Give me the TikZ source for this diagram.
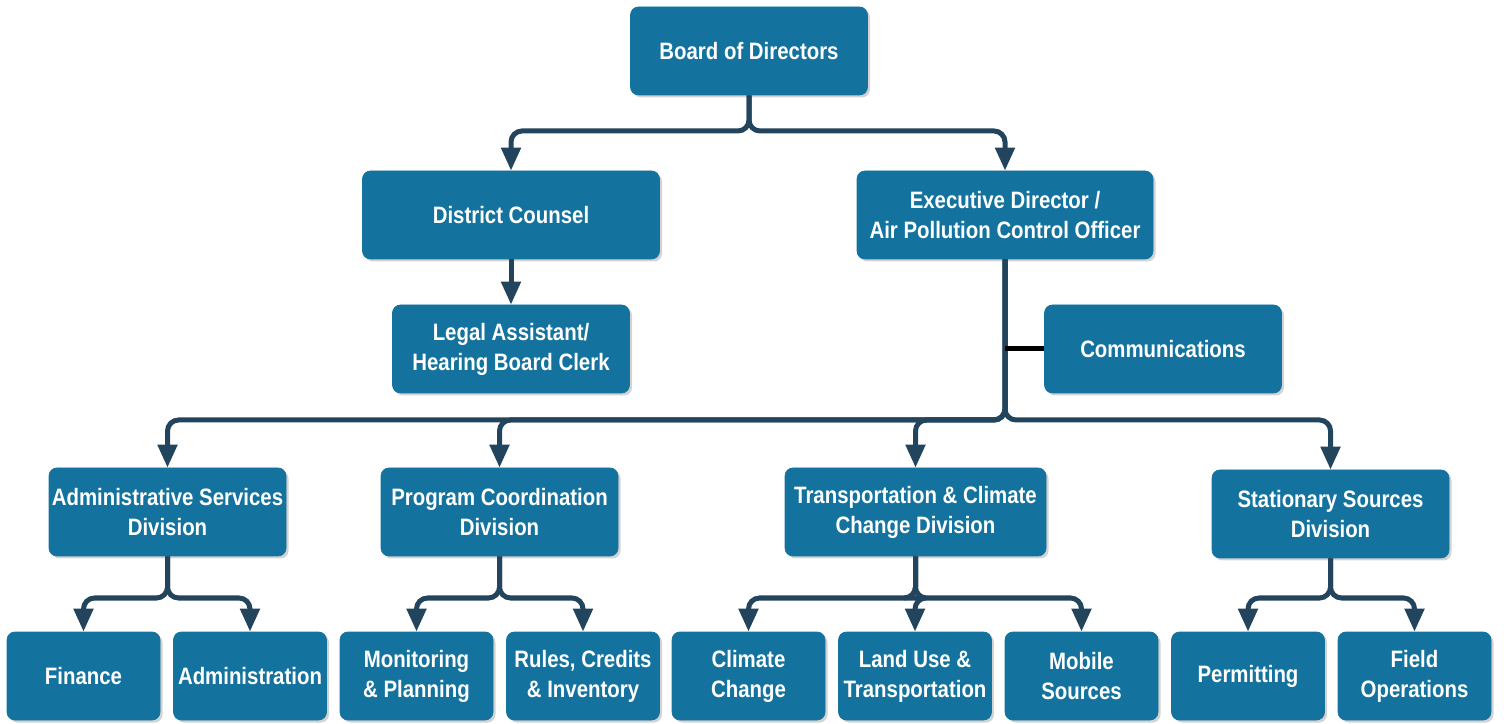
\documentclass[tikz,border=0pt]{standalone}
\usepackage{fontspec}
\setmainfont{Liberation Sans}[FakeStretch=0.86]
\usetikzlibrary{arrows.meta,shadows}

\definecolor{boxblue}{RGB}{19,115,158}
\definecolor{linkblue}{RGB}{35,68,93}

\begin{document}
\begin{tikzpicture}[
    unit/.style={draw=boxblue, fill=boxblue, rounded corners=0.16cm, text=white,
      font=\fontsize{13.5}{17}\selectfont\bfseries, align=center,
      minimum width=4.74cm, minimum height=1.76cm, inner sep=0pt,
      drop shadow={shadow xshift=0.05cm, shadow yshift=-0.05cm, opacity=0.35, fill=gray}},
    leaf/.style={unit, minimum width=3.06cm},
    link/.style={draw=linkblue, line width=0.1cm, rounded corners=0.22cm,
      -{Triangle[width=0.38cm,length=0.46cm]}}
  ]
    \useasboundingbox (0,0) rectangle (30.08,14.46);

    % top
    \node[unit] (board) at (14.98,13.44) {Board of Directors};
    \node[unit, minimum width=5.94cm] (counsel) at (10.22,10.16) {District Counsel};
    \node[unit, minimum width=5.92cm] (exec) at (20.10,10.16) {Executive Director /\\Air Pollution Control Officer};
    \node[unit] (legal) at (10.22,7.48) {Legal Assistant/\\Hearing Board Clerk};
    \node[unit] (comm) at (23.26,7.48) {Communications};

    \coordinate (bus1) at (0,11.84);
    \draw[link] (board.south) -- (board |- bus1) -| (counsel.north);
    \draw[link] (board.south) -- (board |- bus1) -| (exec.north);
    \draw[link] (counsel.south) -- (legal.north);

    % divisions
    \node[unit] (admin) at (3.35,4.22) {Administrative Services\\Division};
    \node[unit] (progc) at (9.99,4.22) {Program Coordination\\Division};
    \node[unit, minimum width=5.22cm] (transp) at (18.31,4.22) {Transportation \& Climate\\Change Division};
    \node[unit] (stat) at (26.61,4.18) {Stationary Sources\\Division};

    \coordinate (bus2) at (0,6.06);
    \foreach \d in {admin,progc,transp,stat}
      \draw[link] (exec.south) -- (exec |- bus2) -| (\d.north);
    \draw[line width=0.1cm, black] (exec |- comm) -- (comm.west);

    % sections
    \node[leaf] (finance) at (1.67,0.94) {Finance};
    \node[leaf] (administration) at (5.00,0.94) {Administration};
    \node[leaf] (monitor) at (8.33,0.94) {Monitoring\\\& Planning};
    \node[leaf] (rules) at (11.66,0.94) {Rules, Credits\\\& Inventory};
    \node[leaf] (climate) at (14.97,0.94) {Climate\\Change};
    \node[leaf] (landuse) at (18.30,0.94) {Land Use \&\\Transportation};
    \node[leaf] (mobile) at (21.63,0.94) {Mobile\\Sources};
    \node[leaf] (permit) at (24.96,0.94) {Permitting};
    \node[leaf] (field) at (28.29,0.94) {Field\\Operations};

    \coordinate (bus3) at (0,2.50);
    \foreach \p/\c in {admin/finance,admin/administration,progc/monitor,progc/rules,
        transp/climate,transp/landuse,transp/mobile,stat/permit,stat/field}
      \draw[link] (\p.south) -- (\p |- bus3) -| (\c.north);
\end{tikzpicture}
\end{document}
